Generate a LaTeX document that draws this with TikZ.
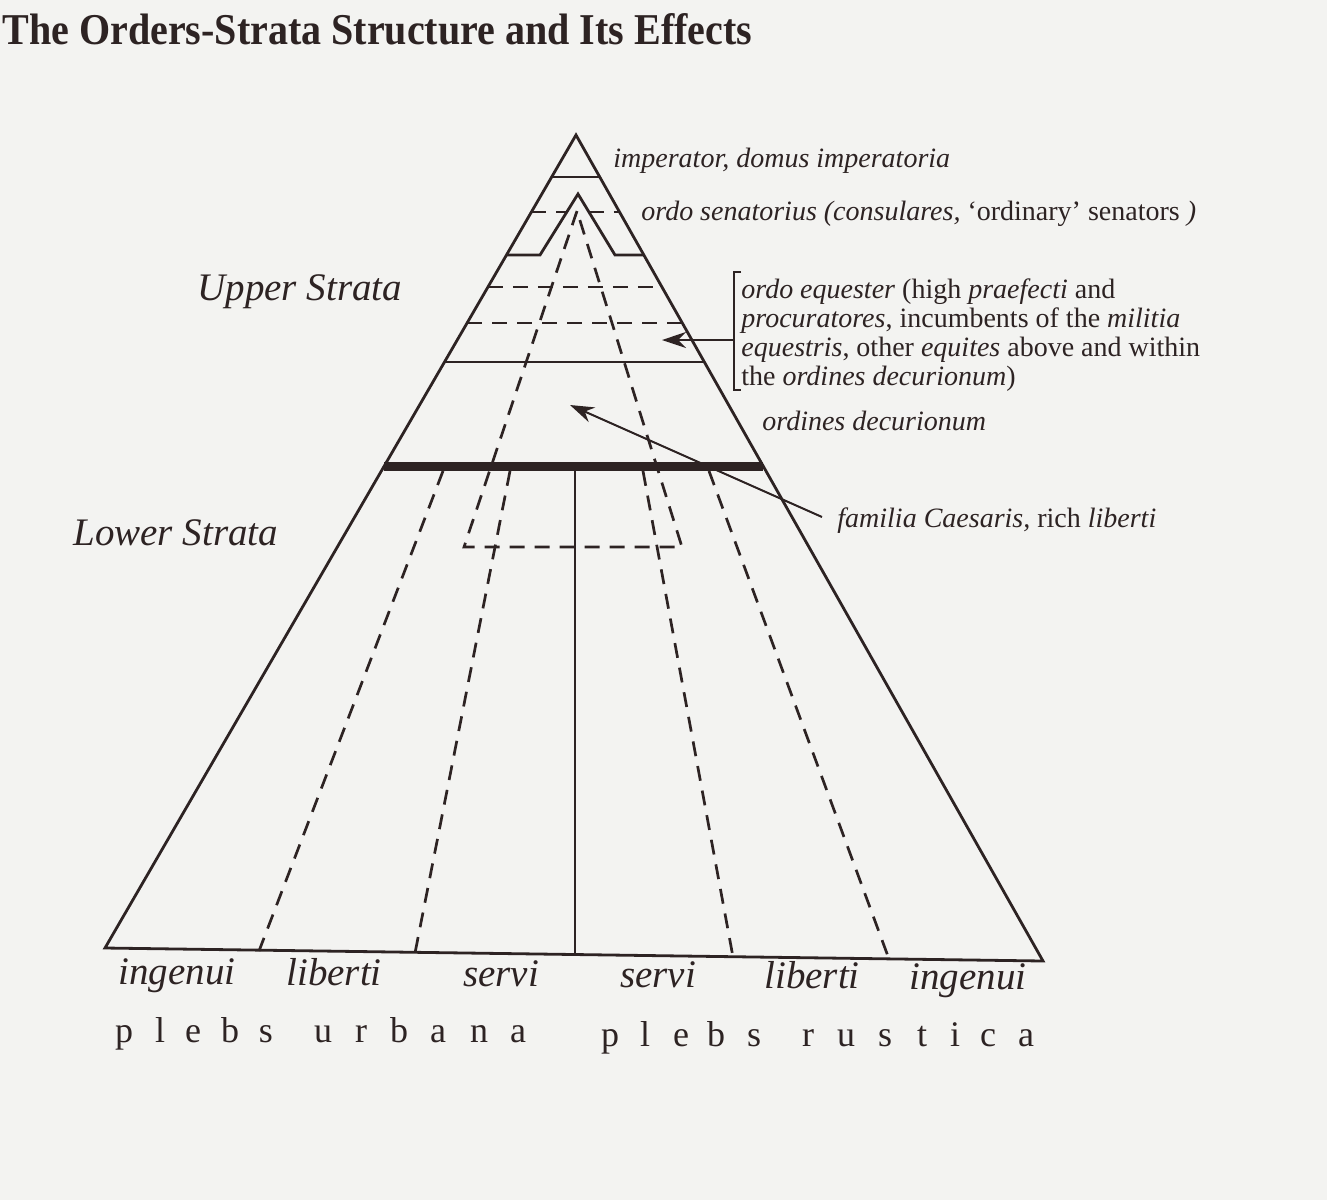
\documentclass[tikz,border=0pt]{standalone}
\usepackage{fontspec}
\setmainfont{Liberation Serif}
\newfontfamily\titlefont[FakeStretch=0.91]{Liberation Serif}
\usetikzlibrary{arrows.meta}
\definecolor{ink}{RGB}{45,35,35}
\definecolor{paper}{RGB}{243,243,241}
\begin{document}
\begin{tikzpicture}[x=0.5pt,y=-0.5pt,
  solidline/.style={draw=ink, line width=1.4pt},
  dashline/.style={draw=ink, line width=1.35pt, dash pattern=on 7.5pt off 5pt},
  thickline/.style={draw=ink, line width=4.5pt},
  arrowline/.style={draw=ink, line width=1pt, -{Stealth[length=12pt,width=8pt]}},
  small/.style={font=\fontsize{14pt}{14.5pt}\selectfont, text=ink, inner sep=0pt, anchor=base west},
  big/.style={font=\fontsize{19.5pt}{20pt}\selectfont\itshape, text=ink, inner sep=0pt, anchor=base west},
  lab/.style={font=\fontsize{19.5pt}{20pt}\selectfont\itshape, text=ink, inner sep=0pt, anchor=base},
  spaced/.style={font=\fontsize{18pt}{18pt}\selectfont, text=ink, inner sep=0pt, anchor=base}]
\fill[paper] (0,0) rectangle (1327,1200);
\useasboundingbox (0,0) rectangle (1327,1200);

% title
\node[font=\titlefont\fontsize{22pt}{22pt}\selectfont\bfseries, text=ink, inner sep=0pt, anchor=base west] (title) at (2,44) {The Orders-Strata Structure and Its Effects};

% outer triangle
\coordinate (apex) at (576,135);
\coordinate (bl) at (105,948);
\coordinate (br) at (1043,961);
\draw[solidline, line join=miter] (apex) -- (bl) -- (br) -- cycle;

% imperator band
\coordinate (h1l) at (551.7,177);
\coordinate (h1r) at (599.7,177);
\draw[solidline] (h1l) -- (h1r);

% inner (senatorial) triangle
\coordinate (iapex) at (578,194);
\coordinate (ibl) at (540,255);
\coordinate (ibr) at (615,255);
\coordinate (iol) at (506.5,255);
\coordinate (ior) at (643.8,255);
\draw[solidline] (iol) -- (ibl) -- (iapex) -- (ibr) -- (ior);

% dashed at 212
\coordinate (d1a) at (531.4,212);
\coordinate (d1b) at (566.8,212);
\coordinate (d1c) at (588.9,212);
\coordinate (d1d) at (619.5,212);
\draw[dashline] (d1a) -- (d1b);
\draw[dashline] (d1c) -- (d1d);

% equestrian dashed bands
\coordinate (d2l) at (487.9,287);
\coordinate (d2r) at (661.9,287);
\coordinate (d3l) at (467.1,323);
\coordinate (d3r) at (682.3,323);
\draw[dashline] (d2l) -- (d2r);
\draw[dashline] (d3l) -- (d3r);

% solid at 362
\coordinate (s4l) at (444.5,362);
\coordinate (s4r) at (704.3,362);
\draw[solidline] (s4l) -- (s4r);

% thick divider
\coordinate (tkl) at (384.2,466);
\coordinate (tkr) at (763.1,466);
\draw[thickline] (tkl) -- (tkr);

% inner dashed "A" (familia Caesaris)
\coordinate (aapex) at (577,211);
\coordinate (acl) at (464,547);
\coordinate (acr) at (682,547);
\draw[dashline, line join=miter] (aapex) -- (acl) -- (acr) -- cycle;

% long dashed lines
\coordinate (l1t) at (443,471);
\coordinate (l1b) at (259,951);
\coordinate (l2t) at (510,471);
\coordinate (l2b) at (415,953);
\coordinate (r2t) at (643,471);
\coordinate (r2b) at (733,957);
\coordinate (r1t) at (709,471);
\coordinate (r1b) at (889,959);
\draw[dashline] (l1t) -- (l1b);
\draw[dashline] (l2t) -- (l2b);
\draw[dashline] (r2t) -- (r2b);
\draw[dashline] (r1t) -- (r1b);

% centre line
\coordinate (ct) at (575,469);
\coordinate (cb) at (575,955);
\draw[solidline] (ct) -- (cb);

% bracket and arrows
\coordinate (bk1) at (741,272);
\coordinate (bk2) at (734,272);
\coordinate (bk3) at (734,390);
\coordinate (bk4) at (741,390);
\draw[ink, line width=0.8pt] (bk1) -- (bk2) -- (bk3) -- (bk4);
\coordinate (a1s) at (734,340);
\coordinate (a1e) at (662,340);
\draw[arrowline] (a1s) -- (a1e);
\coordinate (a2s) at (822,517);
\coordinate (a2e) at (570,405);
\draw[arrowline] (a2s) -- (a2e);

% right-hand texts
\node[small] (imp) at (613,167) {\itshape imperator, domus imperatoria};
\node[small] (sen) at (641,220) {\textit{ordo senatorius (consulares,} ‘ordinary’ senators \textit{)}};
\node[small] (eq1) at (741,298) {\textit{ordo equester} (high \textit{praefecti} and};
\node[small] (eq2) at (741,327) {\textit{procuratores}, incumbents of the \textit{militia}};
\node[small] (eq3) at (741,356) {\textit{equestris}, other \textit{equites} above and within};
\node[small] (eq4) at (741,385) {the \textit{ordines decurionum})};
\node[small] (dec) at (762,430) {\itshape ordines decurionum};
\node[small] (fam) at (837,527) {\textit{familia Caesaris,} rich \textit{liberti}};

% strata labels
\node[big] (upper) at (197,300) {Upper Strata};
\node[big] (lower) at (73,545) {Lower Strata};

% bottom labels
\node[lab] (b1) at (177,984) {ingenui};
\node[lab] (b2) at (334,985) {liberti};
\node[lab] (b3) at (501,986) {servi};
\node[lab] (b4) at (658,987) {servi};
\node[lab] (b5) at (812,988) {liberti};
\node[lab] (b6) at (968,989) {ingenui};

% plebs urbana / plebs rustica (letter-spaced)
\foreach \ch/\xx [count=\i] in {p/124,l/160,e/193,b/230,s/266,u/323,r/361,b/399,a/438,n/479,a/518}
  \node[spaced] (u\i) at (\xx,1042) {\ch};
\foreach \ch/\xx [count=\i] in {p/610,l/645,e/681,b/716,s/754,r/808,u/846,s/885,t/922,i/955,c/988,a/1026}
  \node[spaced] (r\i) at (\xx,1046) {\ch};
\end{tikzpicture}
\end{document}
